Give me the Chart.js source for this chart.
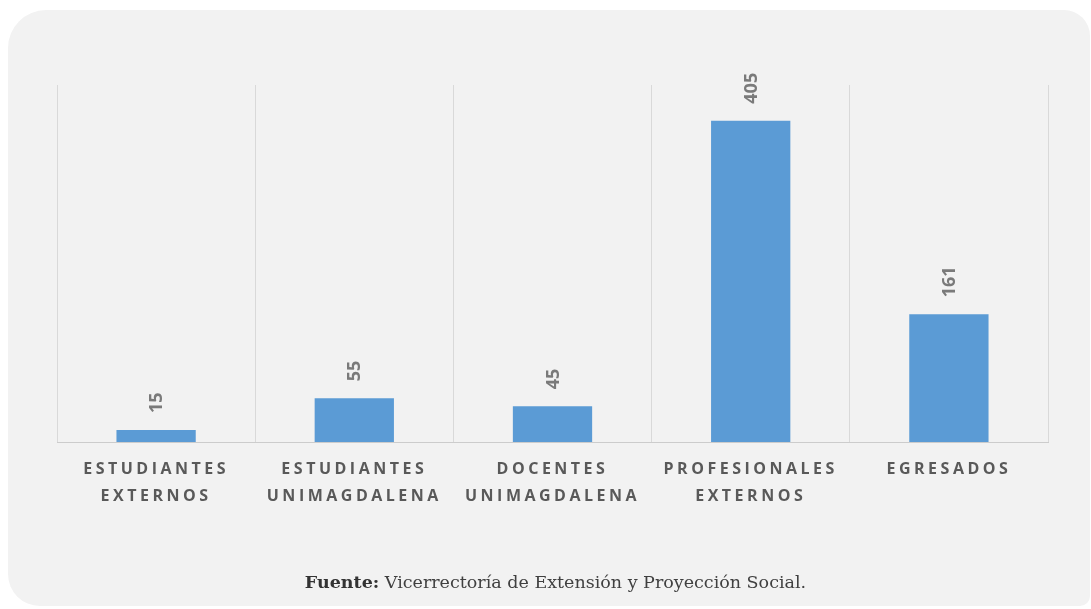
<!DOCTYPE html>
<html>
<head>
<meta charset="utf-8">
<script src="https://cdn.jsdelivr.net/npm/chart.js@4"></script>
<style>
  body { margin: 0; background: #fff; }
  #wrap { position: relative; width: 1091px; height: 609px; overflow: hidden; }
  #card { position: absolute; left: 8px; top: 10px; width: 1082px; height: 596px;
          background: #f2f2f2; border-radius: 38px 26px 10px 32px; }
  #chartCanvas { position: absolute; left: 0; top: 0; }
  #fuente { position: absolute; left: 0; width: 1111px; top: 572px; text-align: center;
            font-family: "DejaVu Serif", serif; font-size: 17.5px; color: #404040; }
  #fuente b { color: #333; }
</style>
</head>
<body>
<div id="wrap">
  <div id="card"></div>
  <canvas id="chartCanvas" width="1091" height="609"></canvas>
  <div id="fuente"><b>Fuente:</b> Vicerrectoría de Extensión y Proyección Social.</div>
</div>
<script>
const categorias = [
  ['ESTUDIANTES', 'EXTERNOS'],
  ['ESTUDIANTES', 'UNIMAGDALENA'],
  ['DOCENTES', 'UNIMAGDALENA'],
  ['PROFESIONALES', 'EXTERNOS'],
  ['EGRESADOS']
];
const participantes = [15, 55, 45, 405, 161];
const yMax = 450;

// espaciado de letras para las etiquetas del eje x
const letterSpacingPlugin = {
  id: 'spacing',
  beforeDraw(chart) { chart.ctx.letterSpacing = '3.5px'; },
  beforeDatasetsDraw(chart) { chart.ctx.letterSpacing = '0px'; }
};

// etiquetas de valor giradas sobre cada barra
const valueLabels = {
  id: 'valueLabels',
  afterDatasetsDraw(chart) {
    const ctx = chart.ctx;
    const meta = chart.getDatasetMeta(0);
    ctx.save();
    ctx.letterSpacing = '0px';
    ctx.font = 'bold 18px "Open Sans"';
    ctx.fillStyle = '#7a7a7a';
    ctx.textAlign = 'left';
    ctx.textBaseline = 'middle';
    meta.data.forEach((bar, i) => {
      ctx.save();
      ctx.translate(bar.x, bar.y - 17);
      ctx.rotate(-Math.PI / 2);
      ctx.fillText(String(participantes[i]), 0, 1);
      ctx.restore();
    });
    ctx.restore();
  }
};

const ctx = document.getElementById('chartCanvas').getContext('2d');
const chart = new Chart(ctx, {
  type: 'bar',
  data: {
    labels: categorias,
    datasets: [{
      data: participantes,
      backgroundColor: '#5b9bd5',
      borderWidth: 0,
      categoryPercentage: 1,
      barPercentage: 0.4
    }]
  },
  options: {
    responsive: false,
    animation: false,
    layout: { padding: { left: 57, right: 43, top: 85, bottom: 0 } },
    plugins: { legend: { display: false }, tooltip: { enabled: false } },
    scales: {
      x: {
        afterFit(s) { s.height = 167; },
        grid: { color: '#d9d9d9', lineWidth: 1, drawTicks: false, offset: true },
        border: { color: '#cccccc', width: 1 },
        ticks: {
          color: '#595959',
          padding: 14,
          autoSkip: false,
          maxRotation: 0,
          font: { family: 'Open Sans', size: 16, weight: 'bold', lineHeight: 1.7 }
        }
      },
      y: { display: false, min: 0, max: yMax }
    }
  },
  plugins: [letterSpacingPlugin, valueLabels]
});
</script>
</body>
</html>
